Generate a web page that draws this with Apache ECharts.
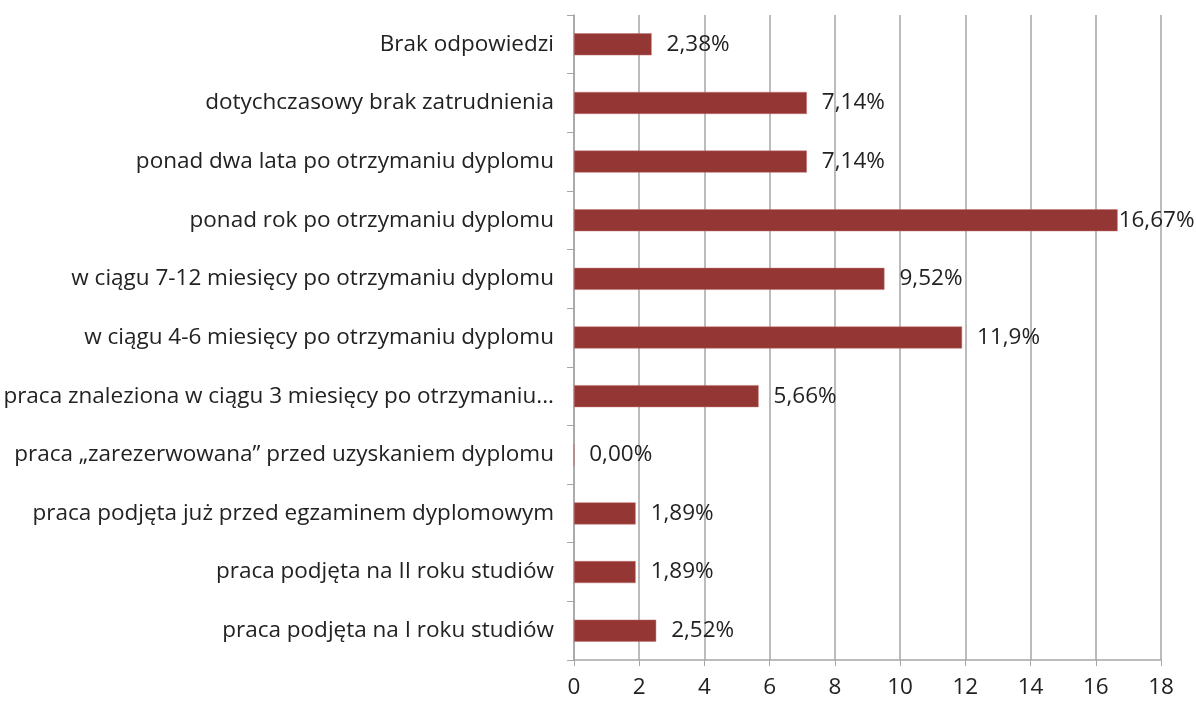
<!DOCTYPE html>
<html>
<head>
<meta charset="utf-8">
<script src="https://cdn.jsdelivr.net/npm/echarts@6/dist/echarts.min.js"></script>
<style>
  html, body { margin: 0; padding: 0; background: #fff; }
  #chart { width: 1196px; height: 701px; }
</style>
</head>
<body>
<div id="chart"></div>
<script>
// categories from bottom to top
const categories = [
  'praca podjęta na I roku studiów',
  'praca podjęta na II roku studiów',
  'praca podjęta już przed egzaminem dyplomowym',
  'praca „zarezerwowana” przed uzyskaniem dyplomu',
  'praca znaleziona w ciągu 3 miesięcy po otrzymaniu dyplomu',
  'w ciągu 4-6 miesięcy po otrzymaniu dyplomu',
  'w ciągu 7-12 miesięcy po otrzymaniu dyplomu',
  'ponad rok po otrzymaniu dyplomu',
  'ponad dwa lata po otrzymaniu dyplomu',
  'dotychczasowy brak zatrudnienia',
  'Brak odpowiedzi'
];
const values = [2.52, 1.89, 1.89, 0, 5.66, 11.9, 9.52, 16.67, 7.14, 7.14, 2.38];
const valueLabels = ['2,52%', '1,89%', '1,89%', '0,00%', '5,66%', '11,9%', '9,52%', '16,67%', '7,14%', '7,14%', '2,38%'];
const xTicks = [0, 2, 4, 6, 8, 10, 12, 14, 16, 18];

const FONT = '"Open Sans", "Noto Sans", sans-serif';
const myChart = echarts.init(document.getElementById('chart'));

const option = {
  animation: false,
  grid: { left: 574, right: 35, top: 15, bottom: 41 },
  xAxis: {
    type: 'value',
    min: xTicks[0],
    max: xTicks[xTicks.length - 1],
    interval: 2,
    axisLine: { show: true, lineStyle: { color: '#a6a6a6', width: 1.5 } },
    axisTick: { show: true, length: 6, lineStyle: { color: '#a6a6a6' } },
    splitLine: { show: true, lineStyle: { color: '#a6a6a6', width: 1.5 } },
    axisLabel: { color: '#222', fontSize: 22.5, fontFamily: FONT, margin: 16 }
  },
  yAxis: {
    type: 'category',
    data: categories,
    axisLine: { show: true, lineStyle: { color: '#a6a6a6', width: 1.5 } },
    axisTick: { show: true, length: 7, lineStyle: { color: '#a6a6a6' } },
    axisLabel: {
      color: '#222', fontSize: 22.5, fontFamily: FONT, margin: 20,
      width: 570, overflow: 'truncate', ellipsis: '...'
    }
  },
  series: [{
    type: 'bar',
    data: values.map((v, i) => ({
      value: v,
      label: i === 7 ? { distance: 1 } : undefined
    })),
    barWidth: 22,
    itemStyle: { color: '#943634', borderColor: '#c07070', borderWidth: 0.5 },
    label: {
      show: true,
      position: 'right',
      distance: 15,
      color: '#222',
      fontSize: 22.5,
      fontFamily: FONT,
      formatter: p => valueLabels[p.dataIndex]
    }
  }]
};

myChart.setOption(option);
</script>
</body>
</html>
